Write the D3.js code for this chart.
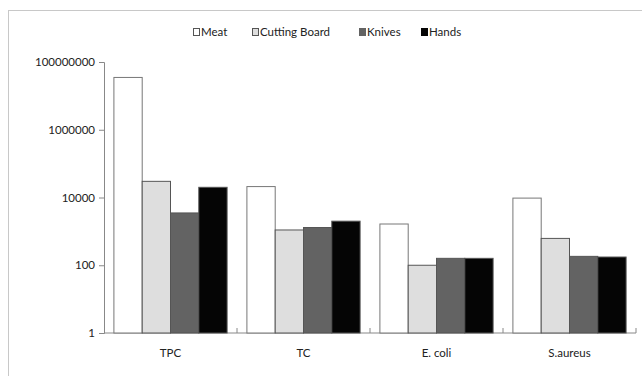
<!DOCTYPE html>
<html>
<head>
<meta charset="utf-8">
<script src="https://cdn.jsdelivr.net/npm/d3@7"></script>
<style>
  body { margin: 0; background: #fff; }
  svg text { font-family: Lato, "Open Sans", sans-serif; fill: #222; }
  .axis path, .axis line { stroke: #888; }
</style>
</head>
<body>
<div id="chart"></div>
<script>
// bacterial counts per sample site (log scale)
var categories = ["TPC", "TC", "E. coli", "S.aureus"];
var seriesNames = ["Meat", "Cutting Board", "Knives", "Hands"];
var seriesColors = ["#ffffff", "#dedede", "#636363", "#050505"];
var meat = [35000000, 21000, 1650, 9600];
var cuttingBoard = [30000, 1100, 100, 620];
var knives = [3500, 1300, 160, 183];
var hands = [20000, 2000, 160, 175];
var yTicks = [1, 100, 10000, 1000000, 100000000];

var width = 642,
    height = 376,
    margin = {top: 62, right: 6, bottom: 43, left: 104};

var svg = d3.select("#chart").append("svg")
    .attr("width", width)
    .attr("height", height);

// chart frame
svg.append("rect")
    .attr("x", 8.5).attr("y", 10.5)
    .attr("width", width).attr("height", height)
    .attr("fill", "none")
    .attr("stroke", "#c8c8c8");

var values = [meat, cuttingBoard, knives, hands];
var rows = categories.map(function(c, i) {
  return {cat: c, vals: values.map(function(s, j) { return {name: seriesNames[j], v: s[i], j: j}; })};
});

var x0 = d3.scaleBand()
    .domain(categories)
    .range([margin.left, width - margin.right])
    .paddingInner(0)
    .paddingOuter(0);

var x1 = d3.scaleBand()
    .domain(seriesNames)
    .range([0, x0.bandwidth()])
    .paddingOuter(0.35);

var y = d3.scaleLog()
    .domain([1, 100000000])
    .range([height - margin.bottom, margin.top]);

// y axis
var yAxis = svg.append("g")
    .attr("class", "axis")
    .attr("transform", "translate(" + margin.left + ",0)")
    .call(d3.axisLeft(y).tickValues(yTicks).tickFormat(d3.format("d")).tickSizeOuter(0).tickSize(5));
yAxis.selectAll("text").attr("font-size", 11.5).attr("x", -9);
yAxis.select(".domain").attr("stroke", "#888");

// x axis with tick marks between groups
var xAxis = svg.append("g")
    .attr("class", "axis")
    .attr("transform", "translate(0," + (height - margin.bottom) + ")");
xAxis.append("line")
    .attr("x1", margin.left).attr("x2", width - margin.right)
    .attr("stroke", "#888");
xAxis.selectAll(".sep")
    .data(categories)
  .enter().append("line")
    .attr("class", "sep")
    .attr("x1", function(d) { return x0(d) + x0.bandwidth(); })
    .attr("x2", function(d) { return x0(d) + x0.bandwidth(); })
    .attr("y1", 0).attr("y2", -5)
    .attr("stroke", "#888");
xAxis.selectAll(".lbl")
    .data(categories)
  .enter().append("text")
    .attr("class", "lbl")
    .attr("x", function(d) { return x0(d) + x0.bandwidth() / 2; })
    .attr("y", 24)
    .attr("text-anchor", "middle")
    .attr("font-size", 11.5)
    .text(function(d) { return d; });

// bars
var groups = svg.selectAll(".grp")
    .data(rows)
  .enter().append("g")
    .attr("class", "grp")
    .attr("transform", function(d) { return "translate(" + x0(d.cat) + ",0)"; });

groups.selectAll("rect")
    .data(function(d) { return d.vals; })
  .enter().append("rect")
    .attr("x", function(d) { return x1(d.name); })
    .attr("y", function(d) { return y(d.v); })
    .attr("width", x1.bandwidth())
    .attr("height", function(d) { return y(1) - y(d.v); })
    .attr("fill", function(d) { return seriesColors[d.j]; })
    .attr("stroke", function(d) { return d.j == 0 ? "#777" : "#555"; })
    .attr("stroke-width", 1);

// legend
var legendX = [193, 252, 359, 421];
var legend = svg.selectAll(".leg")
    .data(seriesNames)
  .enter().append("g")
    .attr("class", "leg")
    .attr("transform", function(d, i) { return "translate(" + legendX[i] + ",32)"; });
legend.append("rect")
    .attr("x", 0.5).attr("y", -3.5)
    .attr("width", 6).attr("height", 7)
    .attr("fill", function(d, i) { return seriesColors[i]; })
    .attr("stroke", function(d, i) { return i < 2 ? "#555" : seriesColors[i]; });
legend.append("text")
    .attr("x", 8)
    .attr("y", 4)
    .attr("font-size", 11.5)
    .text(function(d) { return d; });
</script>
</body>
</html>
